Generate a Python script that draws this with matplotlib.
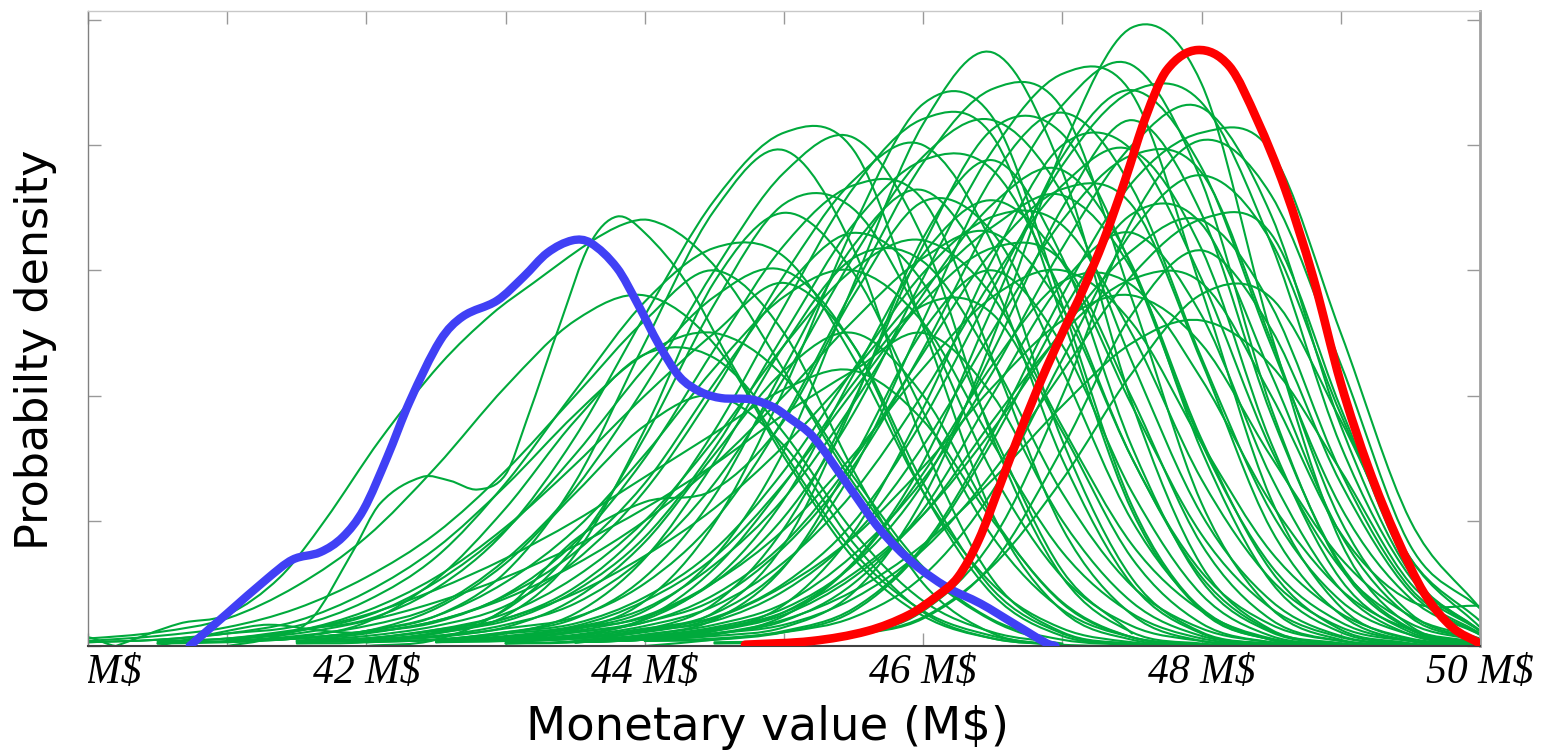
import numpy as np
import matplotlib
matplotlib.use("Agg")
import matplotlib.pyplot as plt
from matplotlib.path import Path
from matplotlib.patches import PathPatch
from matplotlib.transforms import Bbox, TransformedBbox

# x axis ticks (M$)
x_major = [40, 42, 44, 46, 48, 50]
x_labels = ["40 M$", "42 M$", "44 M$", "46 M$", "48 M$", "50 M$"]
x_minor = [41, 43, 45, 47, 49]
y_ticks = [0.0, 0.1, 0.2, 0.3, 0.4, 0.5]

# blue density (thick)
blue_x = [40.73, 41.0, 41.29, 41.47, 41.67, 41.83, 41.98, 42.15, 42.31, 42.53,
          42.69, 42.94, 43.13, 43.3, 43.48, 43.61, 43.8, 43.95, 44.1, 44.25,
          44.4, 44.55, 44.76, 44.92, 45.04, 45.21, 45.45, 45.69, 45.93, 46.17,
          46.41, 46.65, 46.89, 46.95]
blue_y = [0.0, 0.026, 0.054, 0.069, 0.075, 0.087, 0.109, 0.151, 0.195, 0.244,
          0.263, 0.276, 0.295, 0.314, 0.324, 0.322, 0.302, 0.273, 0.241, 0.215,
          0.203, 0.198, 0.197, 0.191, 0.182, 0.167, 0.130, 0.093, 0.066, 0.047,
          0.034, 0.018, 0.002, 0.0]

# red density (thick)
red_x = [44.72, 45.2, 45.6, 45.9, 46.1, 46.25, 46.4, 46.55, 46.7, 46.85,
         47.0, 47.15, 47.3, 47.45, 47.6, 47.75, 47.97, 48.2, 48.4, 48.6,
         48.8, 49.0, 49.2, 49.4, 49.6, 49.8, 50.0]
red_y = [0.001, 0.004, 0.012, 0.025, 0.04, 0.055, 0.085, 0.128, 0.172, 0.213,
         0.25, 0.285, 0.325, 0.372, 0.423, 0.46, 0.476, 0.463, 0.42, 0.365,
         0.295, 0.21, 0.142, 0.087, 0.042, 0.015, 0.002]

# green densities with irregular shapes
wavy_x = [41.0, 41.3, 41.6, 41.9, 42.1, 42.4, 42.6, 42.8, 43.0, 43.15, 43.4,
          43.6, 43.8, 44.0, 44.3, 44.6, 45.0, 45.5, 46.0, 46.5, 47.0]
wavy_y = [0.0, 0.006, 0.021, 0.075, 0.114, 0.135, 0.132, 0.125, 0.137, 0.18,
          0.26, 0.32, 0.343, 0.33, 0.29, 0.23, 0.155, 0.075, 0.028, 0.008, 0.0]
tail_x = [40.2, 40.66, 41.0, 41.38, 41.7, 42.1, 42.53, 42.9, 43.2, 43.6, 43.85,
          44.04, 44.3, 44.6, 45.0, 45.5, 46.0, 46.5, 47.0]
tail_y = [0.0, 0.018, 0.025, 0.055, 0.1, 0.165, 0.225, 0.265, 0.29, 0.322,
          0.337, 0.34, 0.325, 0.29, 0.22, 0.13, 0.06, 0.02, 0.0]
low_x = [40.5, 41.0, 41.3, 41.7, 42.0, 42.5, 43.0, 43.5, 44.0, 44.5, 45.0,
         45.5, 46.0, 46.5, 47.0, 47.5]
low_y = [0.0, 0.012, 0.017, 0.012, 0.011, 0.02, 0.04, 0.075, 0.13, 0.21,
         0.285, 0.33, 0.29, 0.17, 0.06, 0.01]
edge_x = [39.5, 40.0, 40.2, 40.5]
edge_y = [0.012, 0.007, 0.0, 0.0]

# other green densities: first x, then values every 0.5 M$
green_start = [39.5, 40.0, 41.0, 40.5, 41.5, 41.0, 41.5, 41.0, 42.0, 41.5,
               42.5, 42.5, 42.0, 42.0, 43.0, 41.5, 43.0, 42.5, 42.5, 41.5,
               42.0, 43.0, 42.5, 43.5, 43.0, 43.0, 43.5, 43.5, 44.0, 45.0,
               43.0, 43.5, 44.0, 43.5, 44.0, 42.5, 44.5, 44.5, 41.0, 42.5,
               42.5, 43.5, 43.5, 40.0, 42.0, 42.0, 43.5, 43.5, 40.5, 40.5,
               42.0, 41.5, 43.0, 43.5, 43.0, 43.0, 40.5, 41.0, 41.5, 41.0,
               42.0, 41.0, 41.5, 43.5, 40.0]
green_vals = [
    [0.003, 0.006, 0.011, 0.022, 0.048, 0.087, 0.143, 0.207, 0.26, 0.28, 0.241, 0.151, 0.07, 0.024, 0.006, 0.001, 0],
    [0.003, 0.005, 0.01, 0.016, 0.036, 0.071, 0.13, 0.204, 0.275, 0.318, 0.311, 0.23, 0.123, 0.049, 0.014, 0.003, 0],
    [0.004, 0.006, 0.012, 0.024, 0.059, 0.131, 0.242, 0.348, 0.396, 0.317, 0.162, 0.053, 0.011, 0.002, 0],
    [0.004, 0.006, 0.013, 0.021, 0.046, 0.092, 0.167, 0.264, 0.356, 0.41, 0.396, 0.255, 0.105, 0.028, 0.005, 0],
    [0.002, 0.003, 0.01, 0.024, 0.073, 0.173, 0.291, 0.346, 0.298, 0.187, 0.087, 0.029, 0.007, 0.001, 0],
    [0.004, 0.008, 0.016, 0.032, 0.069, 0.126, 0.207, 0.3, 0.378, 0.406, 0.325, 0.166, 0.055, 0.011, 0.002, 0],
    [0.004, 0.005, 0.011, 0.029, 0.08, 0.167, 0.273, 0.353, 0.349, 0.258, 0.138, 0.055, 0.016, 0.004, 0],
    [0.004, 0.006, 0.011, 0.019, 0.041, 0.083, 0.15, 0.237, 0.32, 0.368, 0.356, 0.229, 0.094, 0.025, 0.004, 0],
    [0, 0.005, 0.03, 0.085, 0.115, 0.125, 0.18, 0.28, 0.355, 0.33, 0.22, 0.1, 0.03, 0.005, 0],
    [0.004, 0.008, 0.016, 0.032, 0.068, 0.124, 0.204, 0.296, 0.372, 0.4, 0.32, 0.164, 0.054, 0.011, 0.002, 0],
    [0.004, 0.007, 0.013, 0.036, 0.098, 0.205, 0.335, 0.433, 0.422, 0.272, 0.112, 0.029, 0.005, 0],
    [0.005, 0.007, 0.014, 0.028, 0.071, 0.156, 0.289, 0.417, 0.474, 0.379, 0.194, 0.064, 0.013, 0.002, 0],
    [0.004, 0.008, 0.017, 0.034, 0.071, 0.13, 0.214, 0.311, 0.391, 0.42, 0.361, 0.227, 0.105, 0.036, 0.008, 0.001, 0],
    [0.005, 0.007, 0.014, 0.023, 0.05, 0.1, 0.182, 0.286, 0.386, 0.445, 0.429, 0.277, 0.114, 0.03, 0.005, 0],
    [0.004, 0.006, 0.013, 0.034, 0.094, 0.196, 0.32, 0.413, 0.409, 0.302, 0.162, 0.064, 0.019, 0.004, 0],
    [0.004, 0.006, 0.012, 0.02, 0.044, 0.087, 0.158, 0.249, 0.337, 0.388, 0.38, 0.281, 0.15, 0.059, 0.017, 0.004, 0],
    [0.002, 0.004, 0.012, 0.027, 0.081, 0.194, 0.326, 0.388, 0.31, 0.159, 0.052, 0.011, 0.002, 0],
    [0.004, 0.008, 0.015, 0.03, 0.065, 0.118, 0.194, 0.281, 0.353, 0.38, 0.304, 0.156, 0.051, 0.011, 0.002, 0],
    [0.004, 0.005, 0.011, 0.021, 0.053, 0.117, 0.217, 0.313, 0.356, 0.306, 0.192, 0.089, 0.03, 0.007, 0.001, 0],
    [0.003, 0.006, 0.013, 0.026, 0.055, 0.1, 0.165, 0.24, 0.301, 0.324, 0.279, 0.175, 0.081, 0.028, 0.006, 0.001, 0],
    [0.003, 0.005, 0.01, 0.016, 0.036, 0.071, 0.13, 0.204, 0.275, 0.318, 0.307, 0.198, 0.081, 0.021, 0.004, 0],
    [0.004, 0.006, 0.013, 0.026, 0.064, 0.141, 0.26, 0.375, 0.426, 0.366, 0.23, 0.107, 0.036, 0.009, 0.001, 0],
    [0.005, 0.007, 0.014, 0.023, 0.051, 0.103, 0.186, 0.294, 0.396, 0.457, 0.441, 0.284, 0.117, 0.031, 0.005, 0],
    [0.003, 0.005, 0.008, 0.015, 0.043, 0.118, 0.246, 0.397, 0.494, 0.449, 0.249, 0.083, 0.016, 0.002],
    [0.005, 0.009, 0.019, 0.037, 0.079, 0.144, 0.237, 0.343, 0.432, 0.464, 0.371, 0.19, 0.063, 0.013, 0.002, 0],
    [0.005, 0.007, 0.014, 0.023, 0.05, 0.099, 0.181, 0.285, 0.384, 0.443, 0.434, 0.321, 0.16, 0.055, 0.012],
    [0.004, 0.007, 0.013, 0.027, 0.067, 0.147, 0.271, 0.391, 0.444, 0.382, 0.24, 0.111, 0.038, 0.009],
    [0.004, 0.009, 0.017, 0.034, 0.073, 0.133, 0.219, 0.318, 0.4, 0.43, 0.344, 0.176, 0.058, 0.012],
    [0, 0.005, 0.012, 0.03, 0.08, 0.17, 0.28, 0.37, 0.41, 0.395, 0.25, 0.1, 0.03],
    [0, 0.008, 0.028, 0.085, 0.2, 0.34, 0.404, 0.36, 0.225, 0.08, 0.03],
    [0.004, 0.008, 0.016, 0.032, 0.067, 0.123, 0.202, 0.293, 0.368, 0.396, 0.317, 0.162, 0.053, 0.011, 0.002],
    [0.004, 0.006, 0.012, 0.033, 0.091, 0.19, 0.309, 0.4, 0.396, 0.293, 0.157, 0.062, 0.018, 0.004],
    [0.004, 0.006, 0.011, 0.023, 0.056, 0.124, 0.229, 0.331, 0.376, 0.323, 0.185, 0.07, 0.015],
    [0.003, 0.005, 0.01, 0.017, 0.038, 0.077, 0.139, 0.219, 0.296, 0.341, 0.329, 0.19, 0.06, 0.012],
    [0.004, 0.005, 0.011, 0.028, 0.078, 0.164, 0.267, 0.345, 0.337, 0.217, 0.089, 0.023, 0.004],
    [0.004, 0.006, 0.011, 0.019, 0.041, 0.082, 0.149, 0.234, 0.316, 0.365, 0.352, 0.227, 0.093, 0.025, 0.004, 0],
    [0.002, 0.003, 0.009, 0.022, 0.066, 0.158, 0.265, 0.316, 0.253, 0.13, 0.043, 0.009],
    [0.003, 0.004, 0.009, 0.023, 0.064, 0.133, 0.218, 0.281, 0.278, 0.18, 0.07, 0.02],
    [0.003, 0.006, 0.012, 0.024, 0.051, 0.093, 0.153, 0.222, 0.279, 0.3, 0.258, 0.162, 0.075, 0.026, 0.006, 0.001, 0],
    [0.003, 0.004, 0.008, 0.022, 0.062, 0.129, 0.21, 0.272, 0.265, 0.171, 0.07, 0.018, 0.003, 0],
    [0.003, 0.006, 0.012, 0.024, 0.051, 0.093, 0.153, 0.222, 0.279, 0.3, 0.258, 0.162, 0.075, 0.026, 0.006, 0.001],
    [0.003, 0.005, 0.01, 0.02, 0.05, 0.109, 0.201, 0.29, 0.33, 0.264, 0.135, 0.045, 0.009, 0.001],
    [0.003, 0.005, 0.01, 0.021, 0.044, 0.081, 0.133, 0.192, 0.242, 0.26, 0.224, 0.14, 0.05, 0.012],
    [0.003, 0.005, 0.01, 0.02, 0.043, 0.078, 0.128, 0.185, 0.233, 0.25, 0.215, 0.135, 0.063, 0.021, 0.005, 0.001, 0],
    [0.003, 0.005, 0.01, 0.026, 0.07, 0.147, 0.24, 0.31, 0.307, 0.227, 0.122, 0.048, 0.014, 0.003, 0],
    [0.004, 0.005, 0.011, 0.018, 0.039, 0.077, 0.14, 0.221, 0.298, 0.343, 0.336, 0.249, 0.133, 0.053, 0.015, 0.004, 0],
    [0.003, 0.005, 0.009, 0.024, 0.066, 0.138, 0.225, 0.291, 0.288, 0.213, 0.114, 0.045, 0.013, 0.003],
    [0.003, 0.006, 0.012, 0.025, 0.055, 0.105, 0.18, 0.25, 0.293, 0.29, 0.2, 0.09, 0.036, 0.032],
    [0.003, 0.006, 0.012, 0.024, 0.051, 0.093, 0.153, 0.222, 0.279, 0.3, 0.24, 0.123, 0.041, 0.008, 0.001],
    [0.002, 0.004, 0.007, 0.019, 0.053, 0.11, 0.18, 0.233, 0.23, 0.17, 0.091, 0.036, 0.011, 0.002],
    [0.004, 0.005, 0.011, 0.022, 0.055, 0.12, 0.222, 0.32, 0.364, 0.291, 0.149, 0.049, 0.01, 0.001],
    [0.003, 0.004, 0.008, 0.015, 0.038, 0.083, 0.153, 0.22, 0.25, 0.2, 0.103, 0.034, 0.007, 0.001],
    [0.004, 0.006, 0.012, 0.02, 0.044, 0.088, 0.16, 0.252, 0.34, 0.392, 0.378, 0.244, 0.1, 0.026, 0.004],
    [0.003, 0.007, 0.014, 0.027, 0.058, 0.105, 0.173, 0.252, 0.316, 0.34, 0.272, 0.139, 0.046, 0.01],
    [0.002, 0.003, 0.009, 0.021, 0.063, 0.15, 0.252, 0.3, 0.24, 0.123, 0.041, 0.008, 0.001],
    [0.003, 0.006, 0.011, 0.022, 0.048, 0.087, 0.143, 0.207, 0.26, 0.28, 0.241, 0.151, 0.07, 0.024, 0.006],
    [0.002, 0.003, 0.006, 0.012, 0.03, 0.066, 0.122, 0.176, 0.2, 0.16, 0.082, 0.027, 0.006, 0.001],
    [0.005, 0.01, 0.02, 0.035, 0.055, 0.08, 0.11, 0.145, 0.185, 0.22, 0.25, 0.2, 0.1, 0.035, 0.008, 0.001],
    [0.004, 0.01, 0.02, 0.038, 0.065, 0.1, 0.145, 0.2, 0.26, 0.31, 0.33, 0.27, 0.15, 0.055, 0.012, 0.002],
    [0.005, 0.012, 0.025, 0.045, 0.07, 0.1, 0.135, 0.17, 0.205, 0.22, 0.18, 0.1, 0.035, 0.007, 0],
    [0.004, 0.01, 0.022, 0.042, 0.072, 0.11, 0.16, 0.22, 0.285, 0.335, 0.36, 0.3, 0.165, 0.06, 0.013, 0.002],
    [0.005, 0.012, 0.028, 0.055, 0.095, 0.145, 0.2, 0.25, 0.29, 0.24, 0.13, 0.045, 0.01, 0],
    [0.004, 0.006, 0.013, 0.022, 0.047, 0.095, 0.172, 0.271, 0.366, 0.421, 0.407, 0.262, 0.108, 0.028, 0.005, 0],
    [0.004, 0.008, 0.015, 0.03, 0.065, 0.13, 0.235, 0.35, 0.42, 0.345, 0.185, 0.065, 0.014, 0.002],
    [0.004, 0.008, 0.015, 0.03, 0.055, 0.09, 0.14, 0.2, 0.26, 0.3, 0.25, 0.14, 0.05, 0.01, 0],
]

GREEN = "#00aa3c"
BLUE = "#4040f5"
RED = "#ff0000"


def smooth_path(xs, ys):
    # cubic Hermite through the read points, drawn as Bezier segments
    xs = np.asarray(xs, float)
    ys = np.asarray(ys, float)
    m = np.empty(len(xs))
    m[1:-1] = (ys[2:] - ys[:-2]) / (xs[2:] - xs[:-2])
    m[0] = (ys[1] - ys[0]) / (xs[1] - xs[0])
    m[-1] = (ys[-1] - ys[-2]) / (xs[-1] - xs[-2])
    verts = [(xs[0], ys[0])]
    codes = [Path.MOVETO]
    for i in range(len(xs) - 1):
        h = xs[i + 1] - xs[i]
        verts += [(xs[i] + h / 3, ys[i] + m[i] * h / 3),
                  (xs[i + 1] - h / 3, ys[i + 1] - m[i + 1] * h / 3),
                  (xs[i + 1], ys[i + 1])]
        codes += [Path.CURVE4] * 3
    return Path(verts, codes)


def draw(ax, xs, ys, color, lw, z):
    patch = PathPatch(smooth_path(xs, ys), fill=False, edgecolor=color,
                      linewidth=lw, zorder=z, capstyle="round", joinstyle="round")
    ax.add_patch(patch)


fig = plt.figure(figsize=(15.43, 7.5), dpi=100)
ax = fig.add_axes([88 / 1543, 104 / 750, 1392 / 1543, 635 / 750])

for start, vals in zip(green_start, green_vals):
    xs = start + 0.5 * np.arange(len(vals))
    draw(ax, xs, vals, GREEN, 1.5, 2)
for xs, ys in [(wavy_x, wavy_y), (tail_x, tail_y), (low_x, low_y), (edge_x, edge_y)]:
    draw(ax, xs, ys, GREEN, 1.5, 2)

draw(ax, blue_x, blue_y, BLUE, 6, 3)
draw(ax, red_x, red_y, RED, 6.2, 4)

ax.set_xlim(40, 50)
ax.set_ylim(0, 635 / 1252)

ax.set_xticks(x_major)
ax.set_xticklabels(x_labels, fontfamily="Liberation Serif", fontstyle="italic", fontsize=30)
ax.set_xticks(x_minor, minor=True)
ax.set_yticks(y_ticks)
ax.set_yticklabels([])
ax.tick_params(which="both", direction="in", length=9.5, width=1, color="#999999",
               top=True, right=True)
ax.tick_params(axis="x", pad=5.5)

# the first label is cut at the left edge of the plot
clip = TransformedBbox(Bbox([[0, -1], [1.2, 1]]), ax.transAxes)
for t in ax.get_xticklabels():
    t.set_clip_box(clip)
    t.set_clip_on(True)

ax.spines["left"].set_color("#808080")
ax.spines["left"].set_linewidth(1)
ax.spines["top"].set_color("#c8c8c8")
ax.spines["top"].set_linewidth(1)
ax.spines["right"].set_color("#a0a0a0")
ax.spines["right"].set_linewidth(2)
ax.spines["bottom"].set_color("#404040")
ax.spines["bottom"].set_linewidth(1.5)

ax.set_xlabel("Monetary value (M$)", fontsize=33.5, fontfamily="DejaVu Sans")
ax.xaxis.set_label_coords(0.488, -0.093)
ax.set_ylabel("Probabilty density", fontsize=32, fontfamily="DejaVu Sans")
ax.yaxis.set_label_coords(-0.022, 0.466)

fig.savefig("out.png", dpi=100)
